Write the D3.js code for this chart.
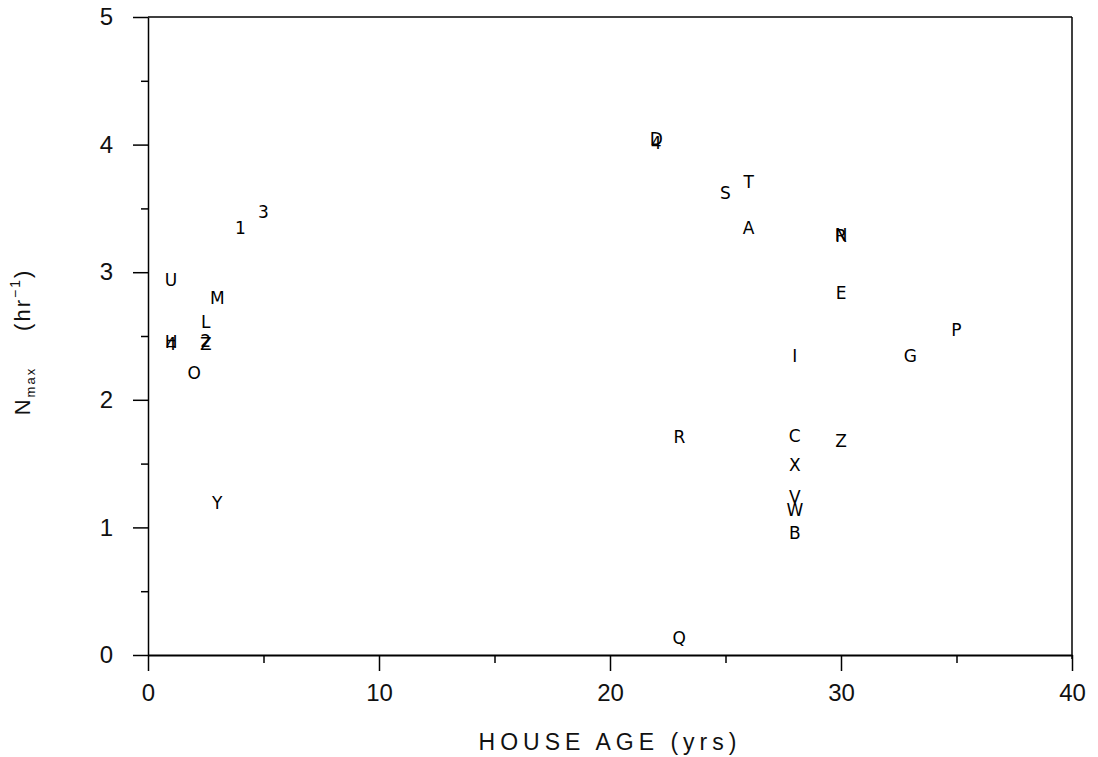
<!DOCTYPE html>
<html><head><meta charset="utf-8">
<script src="https://cdn.jsdelivr.net/npm/d3@7"></script>
<style>body{margin:0;background:#fff}svg{display:block}</style>
</head><body>
<svg id="c" width="1098" height="757"></svg>
<script>
const labels = ["D","4","S","T","A","N","R","E","I","G","P","C","Z","X","V","W","B","R","Q","3","1","U","M","L","H","4","2","Z","O","Y"];
const ages   = [22,22,25,26,26,30,30,30,28,33,35,28,30,28,28,28,28,23,23,5,4,1,3,2.5,1,1,2.5,2.5,2,3];
const nmax   = [4.04,4.01,3.62,3.71,3.35,3.29,3.28,2.84,2.34,2.34,2.55,1.72,1.68,1.49,1.24,1.14,0.96,1.71,0.13,3.47,3.35,2.94,2.80,2.61,2.45,2.44,2.46,2.44,2.21,1.19];
const xTicks = [0,10,20,30,40];
const xMinor = [5,15,25,35];
const yTicks = [0,1,2,3,4,5];
const yMinor = [0.5,1.5,2.5,3.5,4.5];

const svg = d3.select("#c");
const x = d3.scaleLinear().domain([0,40]).range([148,1072]);
const y = d3.scaleLinear().domain([0,5]).range([655,17]);
const ink = "#000";
const tickFont = "DejaVu Sans ExtraLight, Liberation Sans, sans-serif";

// frame
svg.append("line").attr("x1",x(0)).attr("x2",x(40)).attr("y1",y(5)).attr("y2",y(5)).attr("stroke",ink).attr("stroke-width",1.5);
svg.append("line").attr("x1",x(40)).attr("x2",x(40)).attr("y1",y(5)).attr("y2",y(0)+4).attr("stroke",ink).attr("stroke-width",1.5);

// x axis
const xa = svg.append("g").attr("transform",`translate(0,${y(0)})`)
  .call(d3.axisBottom(x).tickValues(xTicks).tickSize(16).tickSizeOuter(0).tickPadding(13).tickFormat(d3.format("d")));
xa.select(".domain").attr("stroke-width",2);
xa.selectAll(".tick line").attr("stroke-width",1.5);
xa.selectAll(".tick text").attr("font-family",tickFont).attr("font-size",24).attr("fill","#111");
svg.append("g").attr("transform",`translate(0,${y(0)})`)
  .call(d3.axisBottom(x).tickValues(xMinor).tickSize(8).tickFormat(""))
  .call(g=>g.select(".domain").remove())
  .selectAll("line").attr("stroke-width",1.5);

// y axis
const ya = svg.append("g").attr("transform",`translate(${x(0)},0)`)
  .call(d3.axisLeft(y).tickValues(yTicks).tickSize(15).tickSizeOuter(0).tickPadding(20).tickFormat(d3.format("d")));
ya.select(".domain").attr("stroke-width",1.5);
ya.selectAll(".tick line").attr("stroke-width",1.5);
ya.selectAll(".tick text").attr("font-family",tickFont).attr("font-size",24).attr("fill","#111");
svg.append("g").attr("transform",`translate(${x(0)},0)`)
  .call(d3.axisLeft(y).tickValues(yMinor).tickSize(7).tickFormat(""))
  .call(g=>g.select(".domain").remove())
  .selectAll("line").attr("stroke-width",1.5);

// point labels
svg.append("g").selectAll("text").data(labels).join("text")
  .attr("x",(d,i)=>x(ages[i])).attr("y",(d,i)=>y(nmax[i]))
  .attr("text-anchor","middle").attr("dominant-baseline","central")
  .attr("font-family","DejaVu Sans, sans-serif").attr("font-size",17)
  .attr("fill",ink).text(d=>d);

// axis titles
svg.append("text").attr("x",610).attr("y",750).attr("text-anchor","middle")
  .attr("font-family",tickFont).attr("font-size",23).attr("letter-spacing",5)
  .attr("fill","#111").text("HOUSE AGE (yrs)");

const yt = svg.append("text").attr("transform","translate(30,342) rotate(-90)").attr("text-anchor","middle")
  .attr("font-family",tickFont).attr("font-size",22).attr("fill","#111").attr("letter-spacing",2);
yt.append("tspan").text("N");
yt.append("tspan").attr("font-size",13).attr("dy",5).text("max");
yt.append("tspan").attr("dy",-5).attr("dx",36).text("(hr");
yt.append("tspan").attr("font-size",14).attr("dy",-10).text("−1");
yt.append("tspan").attr("dy",10).text(")");
</script>
</body></html>
